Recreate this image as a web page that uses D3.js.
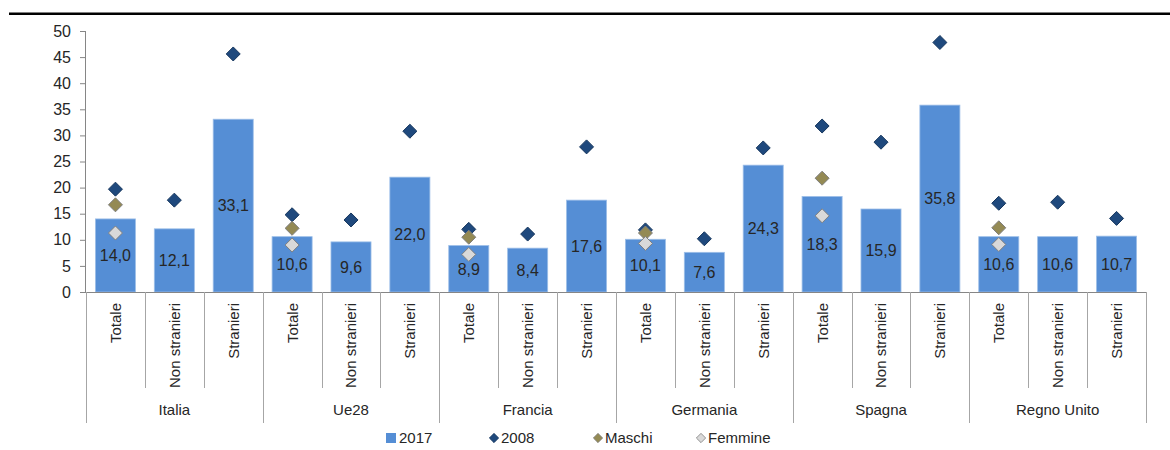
<!DOCTYPE html>
<html>
<head>
<meta charset="utf-8">
<script src="https://cdn.jsdelivr.net/npm/d3@7"></script>
<style>
  body { margin: 0; background: #fff; }
  text { font-family: "Liberation Sans", Arial, sans-serif; fill: #262626; }
</style>
</head>
<body>
<script>
// values
var groups = ["Italia", "Ue28", "Francia", "Germania", "Spagna", "Regno Unito"];
var subcats = ["Totale", "Non stranieri", "Stranieri"];
var yTicks = [0, 5, 10, 15, 20, 25, 30, 35, 40, 45, 50];

var v2017 = [14.0, 12.1, 33.1, 10.6, 9.6, 22.0, 8.9, 8.4, 17.6, 10.1, 7.6, 24.3, 18.3, 15.9, 35.8, 10.6, 10.6, 10.7];
var v2008 = [19.7, 17.6, 45.6, 14.8, 13.8, 30.8, 12.0, 11.1, 27.8, 11.9, 10.2, 27.6, 31.8, 28.7, 47.8, 17.0, 17.2, 14.1];
// only for "Totale"
var maschi = [16.7, 12.2, 10.5, 11.3, 21.8, 12.3];
var femmine = [11.3, 9.0, 7.2, 9.3, 14.6, 9.1];

var W = 1170, H = 450;
var x0 = 86, x1 = 1146, yBase = 292, yTop = 31;

// one row per bar
var rows = [];
groups.forEach(function (g, gi) {
  subcats.forEach(function (s, si) {
    var i = gi * 3 + si;
    rows.push({
      key: g + "|" + s, group: g, sub: s, gi: gi, si: si,
      v17: v2017[i], v08: v2008[i],
      m: si === 0 ? maschi[gi] : null,
      f: si === 0 ? femmine[gi] : null
    });
  });
});

var svg = d3.select("body").append("svg")
  .attr("width", W).attr("height", H);

var x = d3.scaleBand()
  .domain(rows.map(d => d.key))
  .range([x0, x1])
  .paddingInner(0.32)
  .paddingOuter(0.16);
var step = x.step();

var y = d3.scaleLinear().domain([0, 50]).range([yBase, yTop]);

// black rule at the top
svg.append("line")
  .attr("x1", 9).attr("x2", W).attr("y1", 13.8).attr("y2", 13.8)
  .attr("stroke", "#000").attr("stroke-width", 2.4);

// y axis
var yAxis = svg.append("g")
  .attr("transform", "translate(" + x0 + ",0)")
  .call(d3.axisLeft(y).tickValues(yTicks).tickSize(6).tickPadding(9).tickFormat(d3.format("d")));
yAxis.select(".domain").attr("stroke", "#868686").attr("d", "M-0.5," + yTop + "V" + yBase);
yAxis.selectAll(".tick line").attr("stroke", "#868686");
yAxis.selectAll(".tick text").style("font-size", "16px").attr("fill", "#262626")
  .style("font-family", '"Liberation Sans", Arial, sans-serif');

// bars
svg.selectAll("rect.bar").data(rows).enter().append("rect")
  .attr("class", "bar")
  .attr("x", d => x(d.key))
  .attr("width", x.bandwidth())
  .attr("y", d => y(d.v17))
  .attr("height", d => yBase - y(d.v17))
  .attr("fill", "#558ed5")
  .attr("stroke", "#9dbfe8")
  .attr("stroke-width", 0.8);

// value labels in the middle of the bars
svg.selectAll("text.val").data(rows).enter().append("text")
  .attr("class", "val")
  .attr("x", d => x(d.key) + x.bandwidth() / 2)
  .attr("y", d => (y(d.v17) + yBase) / 2)
  .attr("dy", "0.36em")
  .attr("text-anchor", "middle")
  .style("font-size", "16px")
  .attr("fill", "#1a1a1a")
  .text(d => d3.format(".1f")(d.v17).replace(".", ","));

// x axis line
svg.append("line")
  .attr("x1", x0).attr("x2", x1)
  .attr("y1", yBase + 0.5).attr("y2", yBase + 0.5)
  .attr("stroke", "#868686");

// separators between categories, longer ones between countries
var seps = d3.range(0, rows.length + 1);
svg.selectAll("line.sep").data(seps).enter().append("line")
  .attr("class", "sep")
  .attr("x1", i => Math.round(x0 + i * step) + 0.5)
  .attr("x2", i => Math.round(x0 + i * step) + 0.5)
  .attr("y1", yBase)
  .attr("y2", i => i % 3 === 0 ? 423 : 388)
  .attr("stroke", "#a6a6a6");

// rotated category labels
svg.selectAll("text.cat").data(rows).enter().append("text")
  .attr("class", "cat")
  .attr("transform", d => "translate(" + (x(d.key) + x.bandwidth() / 2) + ",303) rotate(-90)")
  .attr("dy", "0.36em")
  .attr("text-anchor", "end")
  .style("font-size", "15px")
  .text(d => d.sub);

// country labels
svg.selectAll("text.grp").data(groups).enter().append("text")
  .attr("class", "grp")
  .attr("x", (g, gi) => x0 + (gi * 3 + 1.5) * step)
  .attr("y", 410)
  .attr("dy", "0.36em")
  .attr("text-anchor", "middle")
  .style("font-size", "15px")
  .text(g => g);

// diamonds
var diamond = d3.symbol().type(d3.symbolDiamond2);
function drawPoints(cls, data, acc, fill, stroke, size) {
  svg.selectAll("path." + cls).data(data.filter(d => acc(d) != null)).enter().append("path")
    .attr("class", cls)
    .attr("transform", d => "translate(" + (x(d.key) + x.bandwidth() / 2) + "," + y(acc(d)) + ")")
    .attr("d", diamond.size(size))
    .attr("fill", fill)
    .attr("stroke", stroke)
    .attr("stroke-width", 1);
}
drawPoints("p08", rows, d => d.v08, "#1f497d", "#17375e", 125);
drawPoints("pm", rows, d => d.m, "#948a54", "#7f7f7f", 125);
drawPoints("pf", rows, d => d.f, "#d9d9d9", "#7f7f7f", 125);

// legend
var legend = [
  { name: "2017", type: "rect", fill: "#558ed5", stroke: "none", x: 386 },
  { name: "2008", type: "dia", fill: "#1f497d", stroke: "#17375e", x: 489 },
  { name: "Maschi", type: "dia", fill: "#948a54", stroke: "#7f7f7f", x: 593 },
  { name: "Femmine", type: "dia", fill: "#d9d9d9", stroke: "#7f7f7f", x: 696 }
];
var lg = svg.selectAll("g.leg").data(legend).enter().append("g")
  .attr("class", "leg")
  .attr("transform", d => "translate(" + d.x + ",438)");
lg.filter(d => d.type === "rect").append("rect")
  .attr("x", 0).attr("y", -5).attr("width", 10).attr("height", 10)
  .attr("fill", d => d.fill);
lg.filter(d => d.type === "dia").append("path")
  .attr("transform", "translate(5,0)")
  .attr("d", diamond.size(55))
  .attr("fill", d => d.fill)
  .attr("stroke", d => d.stroke)
  .attr("stroke-width", 0.8);
lg.append("text")
  .attr("x", d => d.type === "rect" ? 13 : 12)
  .attr("dy", "0.36em")
  .style("font-size", "15px")
  .text(d => d.name);
</script>
</body>
</html>
